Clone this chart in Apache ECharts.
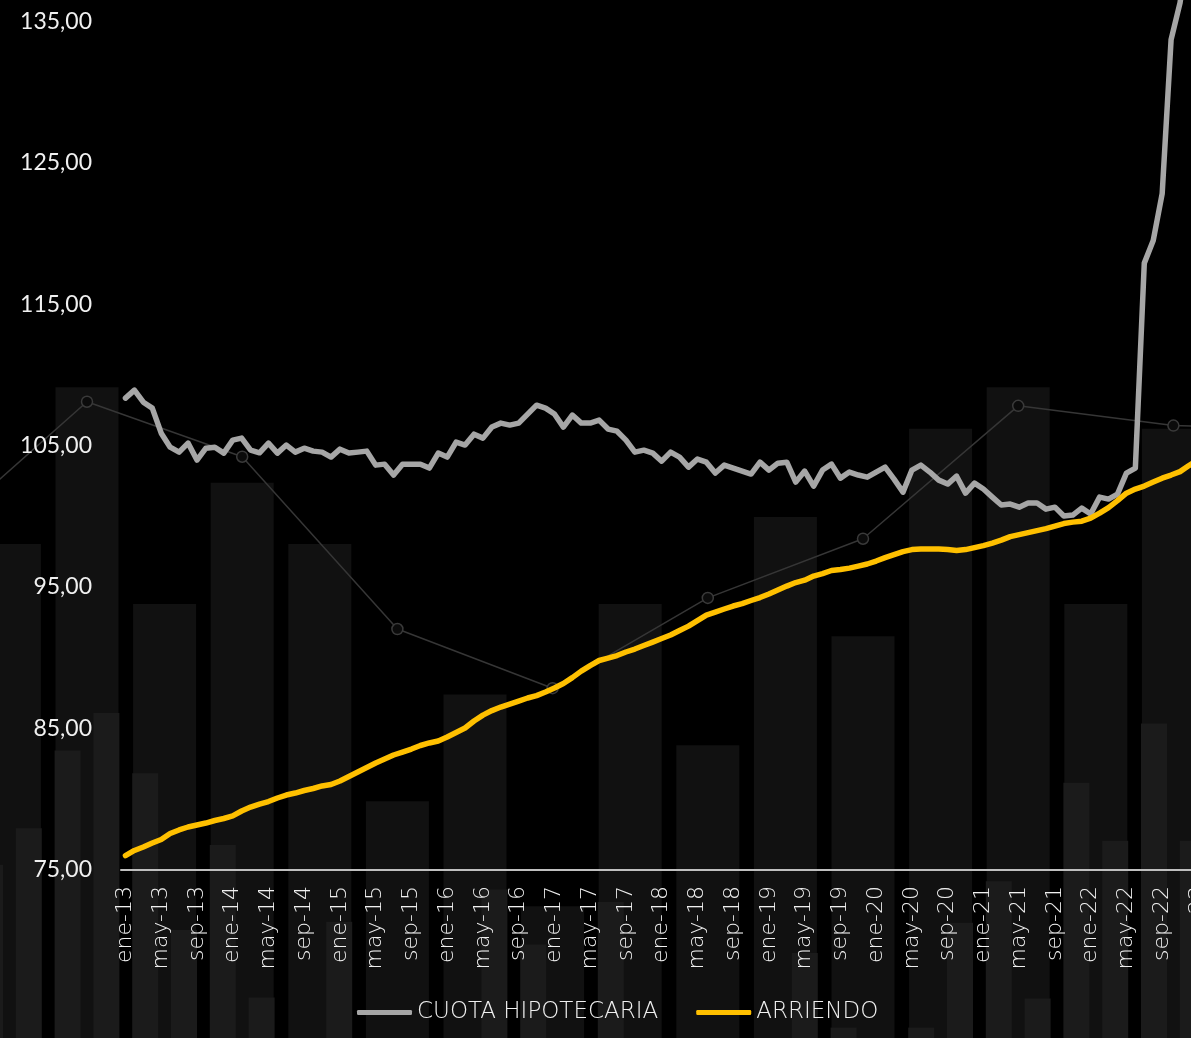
<!DOCTYPE html>
<html>
<head>
<meta charset="utf-8">
<script src="https://cdn.jsdelivr.net/npm/echarts@6/dist/echarts.min.js"></script>
<style>
  html, body { margin: 0; padding: 0; background: #000; }
  #main { width: 1191px; height: 1038px; }
</style>
</head>
<body>
<div id="main"></div>
<script>
  // meses ene-13 .. ene-23
  const mesesNombres = ['ene', 'feb', 'mar', 'abr', 'may', 'jun', 'jul', 'ago', 'sep', 'oct', 'nov', 'dic'];
  const meses = [];
  for (let a = 13; a <= 23; a++) {
    for (let m = 0; m < 12; m++) {
      if (a === 23 && m > 0) break;
      meses.push(mesesNombres[m] + '-' + a);
    }
  }

  const cuotaHipotecaria = [
    108.36, 108.92, 108.07, 107.65, 105.88, 104.89, 104.54, 105.18, 103.98, 104.82, 104.89, 104.47,
    105.39, 105.53, 104.68, 104.49, 105.18, 104.47, 105.04, 104.54, 104.82, 104.61, 104.54, 104.19,
    104.75, 104.47, 104.54, 104.61, 103.62, 103.69, 102.92, 103.69, 103.69, 103.69, 103.41, 104.47,
    104.19, 105.25, 105.04, 105.81, 105.53, 106.31, 106.59, 106.45, 106.59, 107.23, 107.86, 107.65,
    107.23, 106.31, 107.16, 106.59, 106.59, 106.80, 106.17, 106.02, 105.39, 104.54, 104.68, 104.47,
    103.90, 104.54, 104.19, 103.48, 104.05, 103.83, 103.06, 103.62, 103.41, 103.20, 102.99, 103.83,
    103.27, 103.76, 103.83, 102.42, 103.20, 102.14, 103.27, 103.69, 102.70, 103.13, 102.92, 102.77,
    103.13, 103.48, 102.63, 101.71, 103.27, 103.62, 103.13, 102.56, 102.28, 102.84, 101.64, 102.35,
    101.93, 101.36, 100.80, 100.87, 100.65, 100.94, 100.94, 100.51, 100.65, 100.02, 100.09, 100.58,
    100.16, 101.36, 101.22, 101.57, 103.06, 103.41, 117.90, 119.50, 122.80, 133.70, 136.30, 140.50,
    143.00
  ];

  const arriendo = [
    76.02, 76.38, 76.63, 76.91, 77.16, 77.58, 77.83, 78.04, 78.18, 78.32, 78.50, 78.64,
    78.82, 79.17, 79.45, 79.66, 79.84, 80.09, 80.30, 80.44, 80.62, 80.76, 80.94, 81.04,
    81.29, 81.61, 81.93, 82.24, 82.56, 82.84, 83.13, 83.34, 83.55, 83.80, 83.98, 84.12,
    84.40, 84.72, 85.04, 85.53, 85.95, 86.27, 86.52, 86.73, 86.94, 87.16, 87.33, 87.58,
    87.86, 88.18, 88.60, 89.06, 89.45, 89.81, 89.98, 90.16, 90.41, 90.62, 90.87, 91.11,
    91.36, 91.61, 91.93, 92.24, 92.63, 93.02, 93.23, 93.45, 93.66, 93.83, 94.05, 94.26,
    94.51, 94.79, 95.07, 95.32, 95.49, 95.78, 95.95, 96.17, 96.24, 96.34, 96.48, 96.63,
    96.84, 97.08, 97.30, 97.51, 97.65, 97.69, 97.69, 97.69, 97.65, 97.58, 97.65, 97.79,
    97.93, 98.11, 98.32, 98.57, 98.71, 98.85, 98.99, 99.13, 99.31, 99.49, 99.59, 99.66,
    99.88, 100.23, 100.62, 101.11, 101.64, 101.93, 102.14, 102.42, 102.70, 102.92, 103.16, 103.59,
    103.98
  ];

  const yTicks = { min: 75, max: 136.5, interval: 10 };

  // grafico decorativo de fondo (alturas en % del alto)
  const fondoCats = ['f0', 'f1', 'f2', 'f3', 'f4', 'f5', 'f6', 'f7', 'f8', 'f9', 'f10', 'f11', 'f12', 'f13', 'f14', 'f15', 'f16', 'f17', 'f18'];
  const fondoBarras = [40, 47.6, 62.7, 41.8, 53.5, 47.6, 22.8, 33.1, 12.7, 41.8, 28.2, 50.2, 38.7, 58.7, 62.7, 41.8, 58.7, 45, 40];
  const fondoLinea = [48.0, null, 61.3, null, 56.0, null, 39.4, null, 33.7, null, 42.4, null, 48.1, null, 60.9, null, 59.0, null, 58.7];
  const fondoMitades = [
    null, null, 16.7, 20.2, 27.7, 31.3, 25.5, 10.4, 18.6, 3.9, null, 11.2,
    null, null, null, 14.3, 9.0, null, 13.1, null, null, null, null, 8.2,
    1.0, null, 1.0, 11.1, 15.1, 3.8, 24.6, 19.0, 30.3, 19.0, null, null, null, null
  ];
  const fondoMitadCats = fondoMitades.map((v, i) => 'm' + i);

  const chart = echarts.init(document.getElementById('main'));

  const fmt = v => v.toFixed(2).replace('.', ',');
  const fuente = 'DejaVu Sans';

  const option = {
    backgroundColor: '#000000',
    animation: false,
    textStyle: { fontFamily: fuente },
    grid: [
      { left: -107, top: 0, width: 19 * 77.6, height: 1038, outerBoundsMode: 'none', containLabel: false },
      { left: 121, top: 0, width: 121 * 8.937, height: 870, outerBoundsMode: 'none', containLabel: false }
    ],
    legend: {
      left: 352,
      top: 996,
      itemWidth: 55,
      itemHeight: 5,
      itemGap: 38,
      icon: 'roundRect',
      textStyle: { color: '#f0f0f0', fontSize: 23, fontFamily: fuente, fontWeight: 200 },
      data: ['CUOTA HIPOTECARIA', 'ARRIENDO'],
      z: 10
    },
    xAxis: [
      { gridIndex: 0, type: 'category', data: fondoCats, show: false, boundaryGap: true },
      { gridIndex: 0, type: 'category', data: fondoMitadCats, show: false, boundaryGap: true },
      {
        gridIndex: 1,
        type: 'category',
        data: meses,
        boundaryGap: true,
        z: 5,
        axisLine: { lineStyle: { color: '#bfbfbf', width: 2 } },
        axisTick: { interval: 3, length: 7, lineStyle: { color: '#bfbfbf', width: 2 } },
        axisLabel: {
          interval: 3,
          rotate: 90,
          margin: 16,
          color: '#f0f0f0',
          fontSize: 22,
          fontFamily: fuente,
          fontWeight: 200
        }
      }
    ],
    yAxis: [
      { gridIndex: 0, type: 'value', min: 0, max: 100, show: false },
      {
        gridIndex: 1,
        type: 'value',
        min: yTicks.min,
        max: yTicks.max,
        interval: yTicks.interval,
        z: 5,
        axisLine: { show: false },
        axisTick: { show: false },
        splitLine: { show: false },
        axisLabel: {
          showMaxLabel: false,
          margin: 29,
          color: '#f0f0f0',
          fontSize: 23,
          fontFamily: 'Lato',
          formatter: fmt
        }
      }
    ],
    series: [
      {
        type: 'bar',
        xAxisIndex: 0,
        yAxisIndex: 0,
        data: fondoBarras,
        barWidth: 63,
        itemStyle: { color: '#111111' },
        silent: true,
        z: 0
      },
      {
        type: 'bar',
        xAxisIndex: 1,
        yAxisIndex: 0,
        data: fondoMitades,
        barWidth: 26,
        itemStyle: { color: '#1b1b1b' },
        silent: true,
        z: 1
      },
      {
        type: 'line',
        xAxisIndex: 0,
        yAxisIndex: 0,
        data: fondoLinea,
        connectNulls: true,
        symbol: 'circle',
        symbolSize: 11,
        lineStyle: { color: '#363636', width: 1.5 },
        itemStyle: { color: '#0b0b0b', borderColor: '#3a3a3a', borderWidth: 1.5 },
        silent: true,
        z: 1
      },
      {
        name: 'CUOTA HIPOTECARIA',
        type: 'line',
        xAxisIndex: 2,
        yAxisIndex: 1,
        data: cuotaHipotecaria,
        showSymbol: false,
        symbol: 'none',
        lineStyle: { color: '#a6a6a6', width: 5.5, cap: 'round', join: 'round' },
        itemStyle: { color: '#a6a6a6' },
        z: 6
      },
      {
        name: 'ARRIENDO',
        type: 'line',
        xAxisIndex: 2,
        yAxisIndex: 1,
        data: arriendo,
        showSymbol: false,
        symbol: 'none',
        lineStyle: { color: '#ffc000', width: 5.5, cap: 'round', join: 'round' },
        itemStyle: { color: '#ffc000' },
        z: 7
      }
    ]
  };

  chart.setOption(option);
</script>
</body>
</html>
